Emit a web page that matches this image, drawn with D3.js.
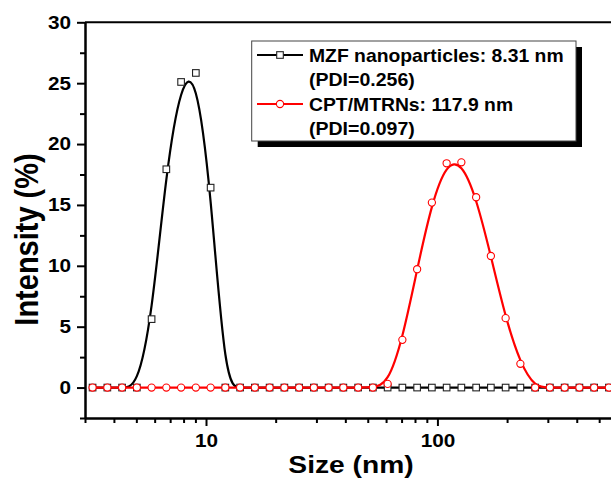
<!DOCTYPE html>
<html><head><meta charset="utf-8">
<script src="https://cdn.jsdelivr.net/npm/d3@7"></script>
<style>
html,body{margin:0;padding:0;background:#fff;}
svg{display:block;}
text{font-family:"Liberation Sans",Arial,sans-serif;font-weight:bold;fill:#000;}
</style>
</head><body>
<svg id="c" width="611" height="483"></svg>
<script>
// ---- data ----
const sizes = [3.235, 3.747, 4.339, 5.025, 5.819, 6.739, 7.805, 9.039, 10.47, 12.12,
  14.04, 16.26, 18.83, 21.81, 25.25, 29.25, 33.87, 39.22, 45.43, 52.61,
  60.93, 70.56, 81.71, 94.63, 109.6, 126.9, 147.0, 170.2, 197.1, 228.3,
  264.4, 306.2, 354.6, 410.7, 475.6, 550.8];
const mzf = [0, 0, 0, 0, 5.62, 17.93, 25.10, 25.84, 16.42, 0,
  0, 0, 0, 0, 0, 0, 0, 0, 0, 0,
  0, 0, 0, 0, 0, 0, 0, 0, 0, 0,
  0, 0, 0, 0, 0, 0];
const cpt = [0, 0, 0, 0, 0, 0, 0, 0, 0, 0,
  0, 0, 0, 0, 0, 0, 0, 0, 0, 0,
  0.30, 3.92, 9.72, 15.19, 18.42, 18.50, 15.63, 10.81, 5.70, 1.95,
  0, 0, 0, 0, 0, 0];
const yTicks = [0, 5, 10, 15, 20, 25, 30];
const yMinor = [-2.5, 2.5, 7.5, 12.5, 17.5, 22.5, 27.5];
const xTicks = [10, 100];
const xMinor = [3, 4, 5, 6, 7, 8, 9, 20, 30, 40, 50, 60, 70, 80, 90, 200, 300, 400, 500];
const seriesNames = ["MZF nanoparticles: 8.31 nm", "CPT/MTRNs: 117.9 nm"];
const seriesPDI = ["(PDI=0.256)", "(PDI=0.097)"];
const xTitle = "Size (nm)";
const yTitle = "Intensity (%)";

// ---- layout ----
const svg = d3.select("#c");
const x = d3.scaleLog().domain([3, 600]).range([85, 617.5]);
const y = d3.scaleLinear().domain([-2.5, 30]).range([418, 22.3]);

function stretch(sel, k) {
  sel.each(function () {
    const L = this.getComputedTextLength();
    this.setAttribute("textLength", L * k);
    this.setAttribute("lengthAdjust", "spacingAndGlyphs");
  });
}

// frame top & right
svg.append("line").attr("x1", x(3)).attr("x2", x(600)).attr("y1", y(30)).attr("y2", y(30))
  .attr("stroke", "#000").attr("stroke-width", 2);
svg.append("line").attr("x1", x(600)).attr("x2", x(600)).attr("y1", y(30)).attr("y2", y(-2.5))
  .attr("stroke", "#000").attr("stroke-width", 2);

// axes
const gx = svg.append("g").attr("transform", `translate(0,${y(-2.5)})`)
  .call(d3.axisBottom(x).tickValues(xTicks).tickFormat(d3.format("d")).tickSize(8).tickSizeOuter(0).tickPadding(8));
const gxm = svg.append("g").attr("transform", `translate(0,${y(-2.5)})`)
  .call(d3.axisBottom(x).tickValues(xMinor).tickFormat("").tickSize(5).tickSizeOuter(0));
const gy = svg.append("g").attr("transform", `translate(${x(3)},0)`)
  .call(d3.axisLeft(y).tickValues(yTicks).tickFormat(d3.format("d")).tickSize(8).tickSizeOuter(0).tickPadding(6));
const gym = svg.append("g").attr("transform", `translate(${x(3)},0)`)
  .call(d3.axisLeft(y).tickValues(yMinor).tickFormat("").tickSize(5).tickSizeOuter(0));
[gx, gxm, gy, gym].forEach(g => {
  g.select(".domain").attr("stroke", "#000").attr("stroke-width", 2);
  g.selectAll(".tick line").attr("stroke", "#000").attr("stroke-width", 2);
  g.selectAll(".tick text").attr("font-size", 18.5).attr("font-family", null).attr("fill", "#000");
});
stretch(gx.selectAll(".tick text"), 1.12);
stretch(gy.selectAll(".tick text"), 1.12);

// axis titles
const tx = svg.append("text").attr("x", 351).attr("y", 472.5).attr("text-anchor", "middle")
  .attr("font-size", 24.5).text(xTitle);
stretch(tx, 1.15);
svg.append("g").attr("transform", "translate(38,239.5) scale(1.12,1) rotate(-90)")
  .append("text").attr("text-anchor", "middle").attr("font-size", 29).text(yTitle);

// series
const line = d3.line().x((d, i) => x(sizes[i])).y(d => y(d)).curve(d3.curveBasis);
function drawSeries(vals, color, shape) {
  svg.append("path").datum(vals).attr("d", line).attr("fill", "none")
    .attr("stroke", color).attr("stroke-width", 2.2);
  const g = svg.append("g");
  if (shape === "square") {
    g.selectAll("rect").data(vals).join("rect")
      .attr("x", (d, i) => x(sizes[i]) - 3.3).attr("y", d => y(d) - 3.3)
      .attr("width", 6.6).attr("height", 6.6)
      .attr("fill", "#fff").attr("stroke", "#222").attr("stroke-width", 1.1);
  } else {
    g.selectAll("circle").data(vals).join("circle")
      .attr("cx", (d, i) => x(sizes[i])).attr("cy", d => y(d)).attr("r", 3.6)
      .attr("fill", "#fff").attr("stroke", color).attr("stroke-width", 1.1);
  }
}
drawSeries(mzf, "#000", "square");
drawSeries(cpt, "#ff0000", "circle");

// legend
const lg = svg.append("g");
lg.append("rect").attr("x", 257.7).attr("y", 47).attr("width", 324.3).attr("height", 100).attr("fill", "#000");
lg.append("rect").attr("x", 251.7).attr("y", 41).attr("width", 324.3).attr("height", 100)
  .attr("fill", "#fff").attr("stroke", "#444").attr("stroke-width", 1);
const legColors = ["#000", "#ff0000"];
seriesNames.forEach((name, k) => {
  const cy = 55 + k * 49;
  lg.append("line").attr("x1", 257).attr("x2", 303).attr("y1", cy).attr("y2", cy)
    .attr("stroke", legColors[k]).attr("stroke-width", 2.2);
  if (k === 0) {
    lg.append("rect").attr("x", 280 - 3.3).attr("y", cy - 3.3).attr("width", 6.6).attr("height", 6.6)
      .attr("fill", "#fff").attr("stroke", "#222").attr("stroke-width", 1.1);
  } else {
    lg.append("circle").attr("cx", 280).attr("cy", cy).attr("r", 3.6)
      .attr("fill", "#fff").attr("stroke", legColors[k]).attr("stroke-width", 1.1);
  }
  const t1 = lg.append("text").attr("x", 309).attr("y", cy + 6.6).attr("font-size", 18.5).text(name);
  const t2 = lg.append("text").attr("x", 309).attr("y", cy + 31).attr("font-size", 18.5).text(seriesPDI[k]);
  stretch(t1, 1.045);
  stretch(t2, 1.055);
});
</script>
</body></html>
